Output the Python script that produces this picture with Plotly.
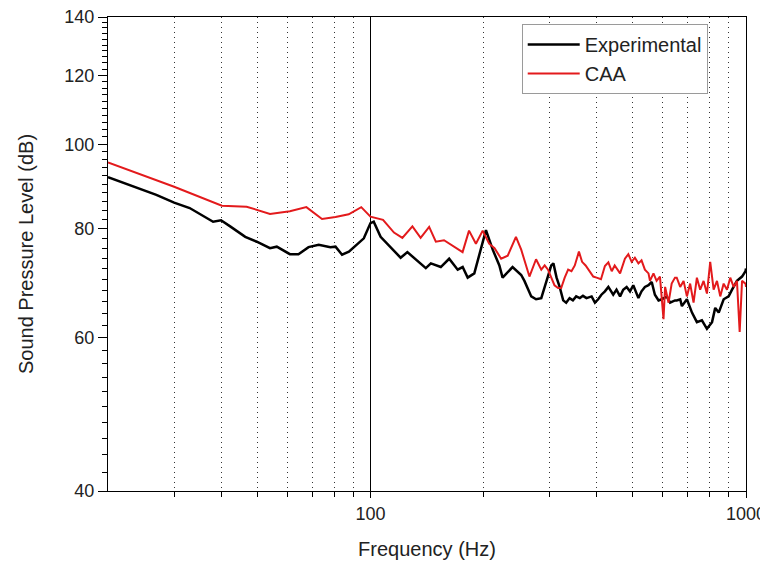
import plotly.graph_objects as go

# Experimental spectrum (Hz, dB)
exp_freq = [20, 24.3, 26.9, 30, 33, 38.1, 40, 42.3, 46.4, 49.8, 54, 56.3, 61, 64.3,
            68.4, 72.8, 78.2, 80.7, 84, 87.6, 92.2, 96, 100, 102, 106.4, 113, 120.3,
            125.4, 133.3, 140.4, 144.8, 153.9, 162, 170.7, 176, 181.5, 189, 196.8,
            203, 211.6, 220.4, 224.8, 239, 252, 257, 268, 276, 285, 291, 297, 303, 307,
            313, 319, 326, 332, 339, 346, 353, 361, 368, 376, 388, 396, 404, 412, 421,
            430, 439, 443, 452, 462, 471, 481, 491, 501, 517, 527, 538, 550, 561, 572,
            585, 597, 615, 628, 647, 654, 668, 675, 696, 718, 740, 763, 787, 812, 828,
            846, 872, 899, 918, 946, 976, 997, 1000]
exp_db = [91.7, 89.0, 87.5, 85.7, 84.5, 81.5, 81.8, 80.5, 78.3, 77.3, 76.0, 76.3, 74.8, 74.8,
          76.2, 76.7, 76.2, 76.3, 74.7, 75.3, 76.7, 78.0, 81.2, 81.5, 78.3, 76.3, 74.1,
          75.2, 73.6, 72.1, 73.0, 72.3, 73.9, 71.8, 72.3, 70.3, 71.1, 75.7,
          79.7, 75.7, 72.6, 70.3, 72.3, 70.8, 69.7, 66.9, 66.4, 66.6, 68.6, 70.8, 72.6, 73.0,
          70.3, 68.6, 66.2, 65.8, 66.6, 66.2, 66.9, 66.6, 67.0, 66.6, 66.9, 65.8, 66.4, 67.2, 67.8,
          68.6, 67.5, 67.2, 68.1, 66.9, 68.1, 68.6, 67.8, 68.9, 66.6, 67.8, 68.6, 68.9, 69.5, 67.2,
          66.2, 66.4, 66.9, 65.8, 66.2, 66.2, 66.4, 65.2, 66.4, 64.1, 62.5, 62.8, 61.4, 62.5, 64.9,
          64.1, 66.4, 66.9, 68.1, 69.7, 70.5, 71.5, 72.0]

# CAA prediction (Hz, dB)
caa_freq = [20, 30, 40.2, 46.8, 54, 61, 67.5, 74.3, 80.7, 87.5, 94.5, 100, 108, 115.5,
            121.6, 129.3, 136, 143.3, 149.3, 157, 175.9, 183, 190.9, 199, 207, 214,
            222.8, 232, 244, 252, 265, 276, 285, 291, 297, 303, 309, 316, 322, 329, 336,
            343, 350, 359, 366, 374, 384, 392, 400, 411, 421, 430, 439, 447, 462, 476,
            486, 496, 506, 517, 527, 538, 550, 555, 567, 578, 590, 603, 609, 622, 634,
            647, 654, 668, 682, 696, 710, 725, 740, 755, 771, 787, 803, 820, 837, 854,
            872, 890, 908, 927, 946, 962, 976, 997, 1000]
caa_db = [95.3, 89.4, 85.0, 84.8, 83.2, 83.8, 84.7, 82.1, 82.5, 83.1, 84.7, 82.6, 81.9, 79.2,
          78.1, 80.5, 78.1, 80.4, 77.3, 77.6, 75.2, 79.6, 76.9, 79.6, 76.9, 76.0,
          73.9, 74.5, 78.3, 75.7, 70.5, 73.8, 71.8, 72.6, 71.8, 70.3, 68.9, 68.4, 68.4, 70.3, 71.8,
          71.5, 72.6, 75.3, 73.3, 72.6, 71.5, 70.5, 70.3, 70.0, 72.5, 73.2, 71.5, 72.6, 71.1, 73.9,
          74.8, 73.3, 74.1, 73.0, 73.6, 71.8, 71.1, 69.7, 71.1, 69.7, 70.5, 63.0, 68.6, 65.8, 69.2,
          70.3, 70.3, 68.6, 69.7, 66.9, 69.2, 65.8, 70.3, 68.1, 69.7, 67.4, 73.3, 68.1, 69.7, 66.9,
          69.2, 68.1, 70.3, 68.6, 69.7, 60.9, 69.7, 69.2, 68.6]

x_major = [100, 1000]
x_major_labels = ["100", "1000"]
x_minor = [30, 40, 50, 60, 70, 80, 90, 200, 300, 400, 500, 600, 700, 800, 900]
y_major = [40, 60, 80, 100, 120, 140]
y_minor = [v for v in range(42, 140, 2) if v not in y_major]

fig = go.Figure()
fig.add_trace(go.Scatter(x=exp_freq, y=exp_db, mode="lines", name="Experimental",
                         line=dict(color="black", width=2.5)))
fig.add_trace(go.Scatter(x=caa_freq, y=caa_db, mode="lines", name="CAA",
                         line=dict(color="#e31a1c", width=2)))

font = "Liberation Sans, Arial, sans-serif"
fig.update_layout(
    width=760, height=559,
    margin=dict(l=100, r=22, t=9, b=76),
    paper_bgcolor="white", plot_bgcolor="white",
    font=dict(family=font, color="#222222", size=18),
    showlegend=True,
    legend=dict(x=0.94, xanchor="right", y=0.985, yanchor="top",
                bgcolor="white", bordercolor="#9a9a9a", borderwidth=1,
                font=dict(size=20, color="#222222"), tracegroupgap=0,
                itemwidth=52),
    xaxis=dict(
        type="log", range=[1.30103, 3.0], automargin=False,
        ticklabeloverflow="allow",
        title=dict(text="Frequency (Hz)", font=dict(size=20), standoff=19),
        tickmode="array", tickvals=x_major, ticktext=x_major_labels,
        ticks="outside", ticklen=6, tickcolor="black", tickwidth=1,
        showline=True, linecolor="black", linewidth=1, mirror=True,
        showgrid=True, gridcolor="black", gridwidth=1,
        zeroline=False,
        minor=dict(tickmode="array", tickvals=x_minor, ticks="outside", ticklen=5,
                   tickcolor="black", showgrid=True, gridcolor="#333333",
                   griddash="1px,4px", gridwidth=1),
    ),
    yaxis=dict(
        type="log", range=[1.60206, 2.146128], automargin=False,
        ticklabeloverflow="allow",
        title=dict(text="Sound Pressure Level (dB)", font=dict(size=20), standoff=25),
        tickmode="array", tickvals=y_major, ticktext=[str(v) for v in y_major],
        ticks="outside", ticklen=9, tickcolor="black", tickwidth=1,
        showline=True, linecolor="black", linewidth=1, mirror=True,
        showgrid=False, zeroline=False,
        minor=dict(tickmode="array", tickvals=y_minor, ticks="outside", ticklen=5,
                   tickcolor="black", showgrid=False),
    ),
)

fig.write_html("out.html")
